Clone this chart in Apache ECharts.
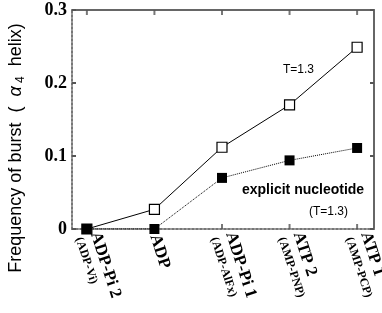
<!DOCTYPE html>
<html><head><meta charset="utf-8">
<script src="https://cdn.jsdelivr.net/npm/echarts@6/dist/echarts.min.js"></script>
<style>html,body{margin:0;padding:0;background:#fff}#c{width:382px;height:313px}</style>
</head><body><div id="c"></div>
<script>
const categories = ['ADP-Pi 2', 'ADP', 'ADP-Pi 1', 'ATP 2', 'ATP 1'];
const subLabels = ['(ADP-Vi)', '', '(ADP-AlFx)', '(AMP-PNP)', '(AMP-PCP)'];
const seriesT = [0, 0.027, 0.112, 0.170, 0.249];
const seriesExplicit = [0, 0, 0.070, 0.094, 0.111];
const yTicks = [0, 0.1, 0.2, 0.3];

const chart = echarts.init(document.getElementById('c'), null, {renderer: 'canvas'});
const serif = '"Liberation Serif","Times New Roman",serif';
const sans = '"Liberation Sans",Arial,sans-serif';
const idx = categories.map((_, i) => i);
const yMin = 0, yMax = 0.3;

chart.setOption({
  animation: false,
  backgroundColor: '#fff',
  grid: {left: 72, right: 8, top: 10, bottom: 84, containLabel: false, outerBoundsMode: 'none'},
  xAxis: [{
    type: 'value', min: -0.22, max: 4.25, position: 'bottom',
    splitLine: {show: false},
    axisLine: {show: true, onZero: false, lineStyle: {color: '#777', type: 'dotted', width: 2}},
    axisTick: {show: false},
    axisLabel: {
      customValues: idx, rotate: -72, margin: 6,
      formatter: v => {
        const i = Math.round(v);
        return subLabels[i] ? '{m|' + categories[i] + '}\n{s|' + subLabels[i] + '}' : '{m|' + categories[i] + '}';
      },
      rich: {
        m: {fontFamily: serif, fontWeight: 'bold', fontSize: 17, color: '#000', lineHeight: 17},
        s: {fontFamily: serif, fontWeight: 'bold', fontSize: 12, color: '#000', lineHeight: 17}
      }
    }
  }, {
    type: 'value', min: -0.22, max: 4.25, position: 'top',
    splitLine: {show: false},
    axisLine: {show: true, onZero: false, lineStyle: {color: '#666', width: 2}},
    axisTick: {show: false},
    axisLabel: {show: false}
  }],
  yAxis: [{
    type: 'value', min: yMin, max: yMax, interval: 0.1, position: 'left',
    splitLine: {show: false},
    axisLine: {show: true, onZero: false, lineStyle: {color: '#777', type: 'dotted', width: 2}},
    axisTick: {show: true, inside: true, length: 4, lineStyle: {color: '#555', width: 2}},
    axisLabel: {
      margin: 5, fontFamily: serif, fontWeight: 'bold', fontSize: 18, color: '#000',
      formatter: v => yTicks.includes(+v.toFixed(1)) ? (v === 0 ? '0' : v.toFixed(1)) : ''
    }
  }, {
    type: 'value', min: yMin, max: yMax, interval: 0.1, position: 'right',
    splitLine: {show: false},
    axisLine: {show: true, onZero: false, lineStyle: {color: '#666', width: 2}},
    axisTick: {show: true, inside: true, length: 4, lineStyle: {color: '#555', width: 2}},
    axisLabel: {show: false}
  }],
  graphic: [
    {type: 'text', x: 16, y: 148, rotation: Math.PI / 2,
      style: {
        text: '{n|Frequency of burst  (  }{g|α}{sub| 4}{n|  helix)}',
        align: 'center', verticalAlign: 'middle',
        rich: {
          n: {fontFamily: sans, fontSize: 18, fill: '#000'},
          g: {fontFamily: sans, fontSize: 18, fill: '#000', fontStyle: 'italic'},
          sub: {fontFamily: sans, fontSize: 12, fill: '#000', padding: [10, 0, 0, 0]}
        }
      }},
    {type: 'text', left: 283, top: 64, style: {text: 'T=1.3', font: '12px ' + sans, fill: '#000'}},
    {type: 'text', left: 242, top: 183, style: {text: 'explicit nucleotide', font: 'bold 14px ' + sans, fill: '#000'}},
    {type: 'text', left: 309, top: 206, style: {text: '(T=1.3)', font: '12px ' + sans, fill: '#000'}}
  ],
  series: [{
    type: 'scatter', silent: true, z: 1,
    data: idx.map(i => [i, yMin]),
    symbol: 'rect', symbolSize: [2, 5], symbolOffset: [0, -2.5],
    itemStyle: {color: '#555'}
  }, {
    type: 'scatter', silent: true, z: 1,
    data: idx.map(i => [i, yMax]),
    symbol: 'rect', symbolSize: [2, 5], symbolOffset: [0, 2.5],
    itemStyle: {color: '#555'}
  }, {
    type: 'line', z: 3,
    data: seriesT.map((v, i) => [i, v]),
    symbol: 'rect', symbolSize: 10,
    lineStyle: {color: '#000', width: 1},
    itemStyle: {color: '#fff', borderColor: '#000', borderWidth: 1.2}
  }, {
    type: 'line', z: 4,
    data: seriesExplicit.map((v, i) => [i, v]),
    symbol: 'rect', symbolSize: 10,
    lineStyle: {color: '#000', width: 1, type: 'dotted'},
    itemStyle: {color: '#000', borderColor: '#000', borderWidth: 0}
  }]
});
</script></body></html>
